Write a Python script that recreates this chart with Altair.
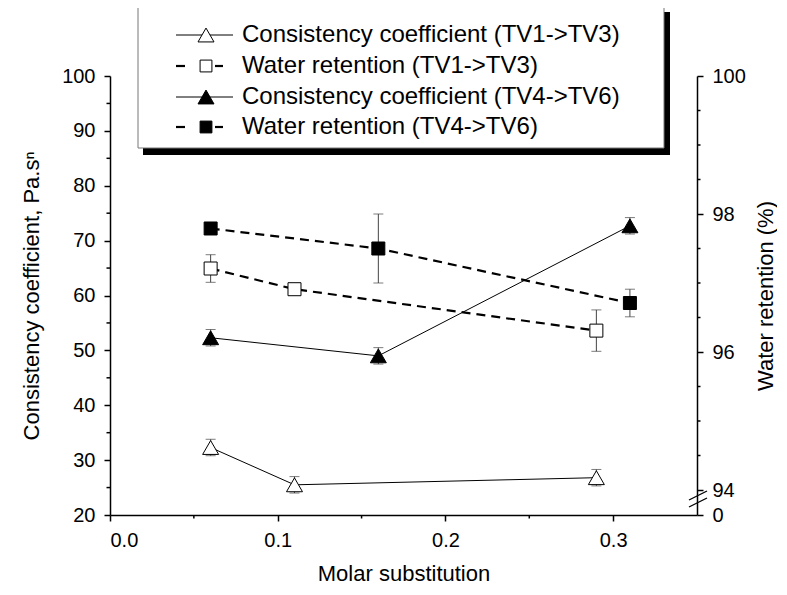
import altair as alt
import pandas as pd

# ---------------- data ----------------
series = ["TV1->TV3", "TV4->TV6"]
ms_13 = [0.06, 0.11, 0.29]
cc_13 = [32.3, 25.5, 26.8]
cc_13_err = [1.5, 1.5, 1.5]
wr_13 = [97.21, 96.91, 96.31]
wr_13_err = [0.2, 0.05, 0.3]

ms_46 = [0.06, 0.16, 0.31]
cc_46 = [52.3, 49.0, 72.7]
cc_46_err = [1.5, 1.5, 1.5]
wr_46 = [97.79, 97.5, 96.71]
wr_46_err = [0.07, 0.5, 0.2]

legend_labels = [
    "Consistency coefficient (TV1->TV3)",
    "Water retention (TV1->TV3)",
    "Consistency coefficient (TV4->TV6)",
    "Water retention (TV4->TV6)",
]

x_major = [0, 0.1, 0.2, 0.3]
x_minor = [0.05, 0.15, 0.25]
left_major = [20, 30, 40, 50, 60, 70, 80, 90, 100]
left_minor = [25, 35, 45, 55, 65, 75, 85, 95]
right_major = [0, 94, 96, 98, 100]
right_minor = [94.5, 95, 95.5, 96.5, 97, 97.5, 98.5, 99, 99.5]


def table(ms, vals, errs, name):
    return pd.DataFrame({
        "ms": ms,
        "v": vals,
        "lo": [a - b for a, b in zip(vals, errs)],
        "hi": [a + b for a, b in zip(vals, errs)],
        "series": name,
    })


cc_df = pd.concat([table(ms_13, cc_13, cc_13_err, series[0]),
                   table(ms_46, cc_46, cc_46_err, series[1])])
wr_df = pd.concat([table(ms_13, wr_13, wr_13_err, series[0]),
                   table(ms_46, wr_46, wr_46_err, series[1])])

FONT = "Liberation Sans"
W, H = 587, 439
TICK = 6
MINOR = 3.5

x_scale = alt.Scale(domain=[0, 0.35], nice=False, zero=False)
x_axis = alt.Axis(values=x_major, orient="bottom", format=".1f", tickSize=TICK,
                  title="Molar substitution", titlePadding=13, labelPadding=9)
x_enc = alt.X("ms:Q", scale=x_scale, axis=x_axis)

left_axis = alt.Axis(orient="left", values=left_major, tickSize=TICK,
                     title="Consistency coefficient, Pa.sⁿ", titlePadding=18, labelPadding=9)
left_scale = alt.Scale(domain=[20, 100], nice=False, zero=False)

right_axis = alt.Axis(orient="right", values=right_major, format="d", tickSize=TICK,
                      title="Water retention (%)", titleAngle=270, titlePadding=32, labelPadding=9)
right_scale = alt.Scale(domain=[0, 94, 100], range=[H, H - 25, 0], nice=False, zero=False)

fill_enc = alt.Fill("series:N", scale=alt.Scale(domain=series, range=["white", "black"]), legend=None)
ERR = "#444444"

# ----- consistency coefficient (left axis) -----
cc_base = alt.Chart(cc_df).encode(x=x_enc)
cc_y = alt.Y("v:Q", scale=left_scale, axis=left_axis)
cc_err = cc_base.mark_rule(color=ERR, strokeWidth=1).encode(
    y=alt.Y("lo:Q", scale=left_scale, axis=left_axis), y2="hi:Q")
cc_cap_lo = cc_base.mark_tick(color=ERR, thickness=1, size=10, orient="horizontal").encode(
    y=alt.Y("lo:Q", scale=left_scale, axis=left_axis))
cc_cap_hi = cc_base.mark_tick(color=ERR, thickness=1, size=10, orient="horizontal").encode(
    y=alt.Y("hi:Q", scale=left_scale, axis=left_axis))
cc_line = cc_base.mark_line(color="black", strokeWidth=1).encode(y=cc_y, detail="series:N")
cc_pts = cc_base.mark_point(shape="triangle-up", size=256, stroke="black", strokeWidth=1,
                            opacity=1, filled=False).encode(y=cc_y, fill=fill_enc)
left_minor_ticks = alt.Chart(pd.DataFrame({"t": left_minor})).mark_rule(
    color="black", strokeWidth=1.5).encode(
    y=alt.Y("t:Q", scale=left_scale, axis=left_axis), x=alt.value(-MINOR), x2=alt.value(0))
left_layer = alt.layer(cc_err, cc_cap_lo, cc_cap_hi, cc_line, cc_pts, left_minor_ticks)

# ----- water retention (right axis) -----
wr_base = alt.Chart(wr_df).encode(x=x_enc)
wr_y = alt.Y("v:Q", scale=right_scale, axis=right_axis)
wr_err = wr_base.mark_rule(color=ERR, strokeWidth=1).encode(
    y=alt.Y("lo:Q", scale=right_scale, axis=right_axis), y2="hi:Q")
wr_cap_lo = wr_base.mark_tick(color=ERR, thickness=1, size=10, orient="horizontal").encode(
    y=alt.Y("lo:Q", scale=right_scale, axis=right_axis))
wr_cap_hi = wr_base.mark_tick(color=ERR, thickness=1, size=10, orient="horizontal").encode(
    y=alt.Y("hi:Q", scale=right_scale, axis=right_axis))
wr_line = wr_base.mark_line(color="black", strokeWidth=2.2, strokeDash=[9, 6]).encode(
    y=wr_y, detail="series:N")
wr_pts = wr_base.mark_point(shape="square", size=169, stroke="black", strokeWidth=1,
                            opacity=1, filled=False).encode(y=wr_y, fill=fill_enc)
right_minor_ticks = alt.Chart(pd.DataFrame({"t": right_minor})).mark_rule(
    color="black", strokeWidth=1.5).encode(
    y=alt.Y("t:Q", scale=right_scale, axis=right_axis), x=alt.value(W), x2=alt.value(W + MINOR))
right_layer = alt.layer(wr_err, wr_cap_lo, wr_cap_hi, wr_line, wr_pts, right_minor_ticks)

# x minor ticks
x_minor_ticks = alt.Chart(pd.DataFrame({"ms": x_minor})).mark_rule(
    color="black", strokeWidth=1.5).encode(
    x=x_enc, y=alt.value(H), y2=alt.value(H + MINOR))

# ----- decorations: legend box and axis break -----
dummy = pd.DataFrame({"a": [0]})
deco = []
deco.append(alt.Chart(dummy).mark_rect(color="black").encode(
    x=alt.value(33), x2=alt.value(560), y=alt.value(-64), y2=alt.value(79)))
deco.append(alt.Chart(dummy).mark_rect(fill="white", stroke="#777777", strokeWidth=1).encode(
    x=alt.value(28), x2=alt.value(554), y=alt.value(-69), y2=alt.value(72)))
row_y = [-41, -10, 21, 51]
sym_fill = ["white", "white", "black", "black"]
sym_shape = ["triangle-up", "square", "triangle-up", "square"]
sym_size = [256, 140, 256, 140]
for i, lab in enumerate(legend_labels):
    yy = row_y[i]
    if i % 2 == 0:
        deco.append(alt.Chart(dummy).mark_rule(color="black", strokeWidth=1).encode(
            x=alt.value(66), x2=alt.value(123), y=alt.value(yy)))
    else:
        for a, b in [(66, 75), (105, 113)]:
            deco.append(alt.Chart(dummy).mark_rule(color="black", strokeWidth=2.2).encode(
                x=alt.value(a), x2=alt.value(b), y=alt.value(yy)))
    deco.append(alt.Chart(dummy).mark_point(shape=sym_shape[i], size=sym_size[i], stroke="black",
                                            strokeWidth=1, fill=sym_fill[i], opacity=1,
                                            filled=False).encode(
        x=alt.value(96), y=alt.value(yy)))
    deco.append(alt.Chart(dummy).mark_text(text=lab, font=FONT, fontSize=24, align="left",
                                           baseline="middle", color="black").encode(
        x=alt.value(132), y=alt.value(yy)))
for dy in [0, 7]:
    deco.append(alt.Chart(dummy).mark_rule(color="black", strokeWidth=1.3).encode(
        x=alt.value(W - 8), x2=alt.value(W + 10), y=alt.value(H - 15 + dy), y2=alt.value(H - 24 + dy)))

chart = alt.layer(left_layer, right_layer, x_minor_ticks, *deco).resolve_scale(y="independent").properties(
    width=W, height=H,
    padding={"left": 102, "top": 68, "right": 80, "bottom": 72},
    autosize=alt.AutoSizeParams(type="none"),
).configure_view(stroke=None).configure_axis(
    grid=False,
    labelFont=FONT, titleFont=FONT, labelFontSize=20, titleFontSize=22,
    titleFontWeight="normal", labelColor="black", titleColor="black",
    domainColor="black", tickColor="black", domainWidth=1.5, tickWidth=1.5,
    labelOverlap=False,
)

chart.save("out.html", embed_options={"renderer": "svg", "actions": False})
